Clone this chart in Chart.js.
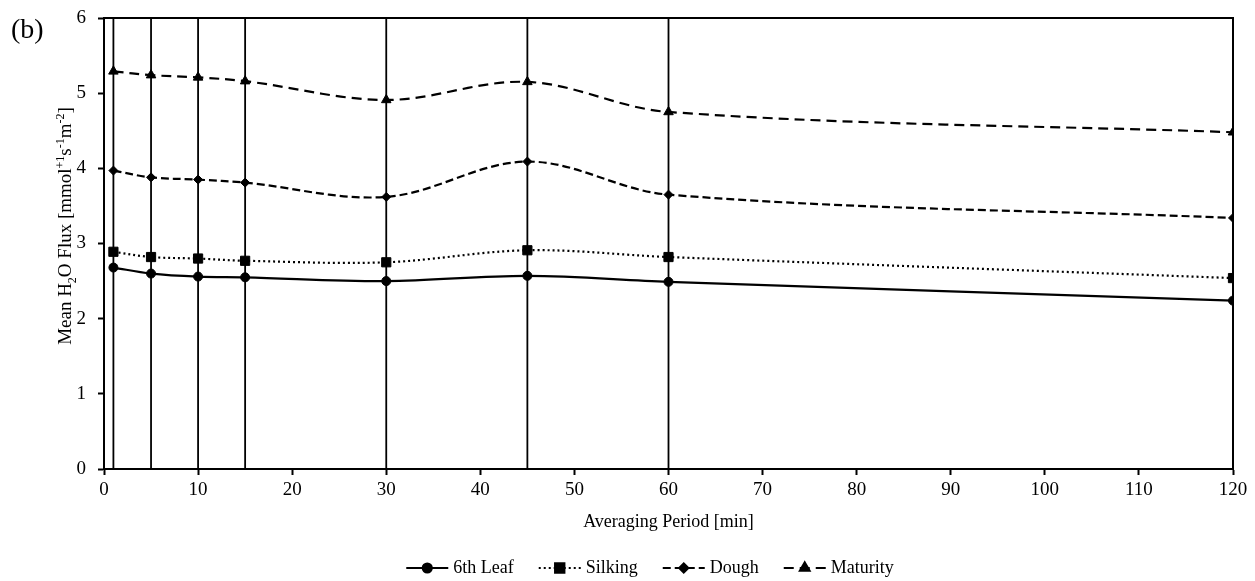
<!DOCTYPE html>
<html>
<head>
  <title>Mean H2O Flux</title>
  <script src="https://cdn.jsdelivr.net/npm/chart.js"></script>
  <style>
    body { margin: 0; background: #fff; }
  </style>
</head>
<body>
<canvas id="fluxChart" width="1255" height="581"></canvas>
<script>
  const periods = [1, 5, 10, 15, 30, 45, 60, 120];
  const leaf6 = [2.68, 2.60, 2.56, 2.55, 2.50, 2.57, 2.49, 2.24];
  const silking = [2.89, 2.82, 2.80, 2.77, 2.75, 2.91, 2.82, 2.54];
  const dough = [3.97, 3.88, 3.85, 3.81, 3.62, 4.09, 3.65, 3.34];
  const maturity = [5.29, 5.24, 5.21, 5.16, 4.91, 5.15, 4.75, 4.48];
  const stageNames = ['6th Leaf', 'Silking', 'Dough', 'Maturity'];
  // error bars are far wider than the axis range, so they run off the plot
  const errHalf = [4, 4, 4, 4, 4, 4, 4, 4];

  const serif = '"Liberation Serif", "Times New Roman", serif';

  function pts(vals) {
    return periods.map((x, i) => ({ x: x, y: vals[i] }));
  }

  function series(label, vals, dash, style, radius) {
    return {
      label: label,
      data: pts(vals),
      borderColor: '#000',
      backgroundColor: '#000',
      borderWidth: 2.2,
      borderDash: dash,
      borderCapStyle: 'butt',
      pointStyle: style,
      pointRadius: radius,
      pointBorderWidth: 1,
      tension: 0.35
    };
  }

  const errorBars = {
    id: 'errorBars',
    beforeDatasetsDraw(chart) {
      const { ctx, chartArea, scales } = chart;
      ctx.save();
      ctx.beginPath();
      ctx.rect(chartArea.left, chartArea.top, chartArea.right - chartArea.left, chartArea.bottom - chartArea.top);
      ctx.clip();
      ctx.strokeStyle = '#000';
      ctx.lineWidth = 1.8;
      periods.forEach((x, i) => {
        const px = scales.x.getPixelForValue(x);
        ctx.beginPath();
        ctx.moveTo(px, scales.y.getPixelForValue(leaf6[i] - errHalf[i]));
        ctx.lineTo(px, scales.y.getPixelForValue(leaf6[i] + errHalf[i]));
        ctx.stroke();
      });
      ctx.restore();
    }
  };

  // frame, panel letter, y title with sub/superscripts, legend
  const extras = {
    id: 'extras',
    afterDraw(chart) {
      const { ctx, chartArea } = chart;
      ctx.save();
      ctx.strokeStyle = '#000';
      ctx.lineWidth = 2;
      ctx.strokeRect(chartArea.left, chartArea.top, chartArea.right - chartArea.left, chartArea.bottom - chartArea.top);

      ctx.fillStyle = '#000';
      ctx.font = '28px ' + serif;
      ctx.textBaseline = 'middle';
      ctx.textAlign = 'left';
      ctx.fillText('(b)', 11, 31);

      // rotated y axis title
      const parts = [
        ['Mean H', 0], ['2', 1], ['O Flux [mmol', 0], ['+1', -1], ['s', 0],
        ['-1', -1], ['m', 0], ['-2', -1], [']', 0]
      ];
      const big = '19px ' + serif, small = '12px ' + serif;
      let total = 0;
      parts.forEach(p => { ctx.font = p[1] ? small : big; total += ctx.measureText(p[0]).width; });
      ctx.translate(65, 226);
      ctx.rotate(-Math.PI / 2);
      ctx.textBaseline = 'alphabetic';
      let cx = -total / 2;
      parts.forEach(p => {
        ctx.font = p[1] ? small : big;
        const dy = p[1] === 1 ? 11 : (p[1] === -1 ? -1 : 6);
        ctx.fillText(p[0], cx, dy);
        cx += ctx.measureText(p[0]).width;
      });
      ctx.setTransform(1, 0, 0, 1, 0, 0);

      // legend
      ctx.font = '18px ' + serif;
      const sample = 42, gapText = 5, gapItem = 25;
      const sets = chart.data.datasets;
      let width = 0;
      sets.forEach((d, i) => {
        width += sample + gapText + ctx.measureText(d.label).width;
        if (i < sets.length - 1) width += gapItem;
      });
      let lx = 650 - width / 2;
      const ly = 568;
      sets.forEach(d => {
        ctx.strokeStyle = '#000';
        ctx.lineWidth = d.borderWidth;
        ctx.setLineDash(d.borderDash);
        ctx.beginPath();
        ctx.moveTo(lx, ly);
        ctx.lineTo(lx + sample, ly);
        ctx.stroke();
        ctx.setLineDash([]);
        Chart.helpers.drawPoint(ctx, {
          pointStyle: d.pointStyle, radius: d.pointRadius, rotation: 0, borderWidth: 1
        }, lx + sample / 2, ly);
        ctx.fill();
        ctx.fillStyle = '#000';
        ctx.textBaseline = 'middle';
        ctx.fillText(d.label, lx + sample + gapText, ly);
        lx += sample + gapText + ctx.measureText(d.label).width + gapItem;
      });
      ctx.restore();
    }
  };

  new Chart(document.getElementById('fluxChart'), {
    type: 'line',
    data: {
      datasets: [
        series(stageNames[0], leaf6, [], 'circle', 4.5),
        series(stageNames[1], silking, [2, 3], 'rect', 6.5),
        series(stageNames[2], dough, [8, 4], 'rectRot', 4.5),
        series(stageNames[3], maturity, [10, 6], 'triangle', 5.5)
      ]
    },
    options: {
      responsive: false,
      animation: false,
      layout: { padding: { top: 18, right: 22, bottom: 40, left: 0 } },
      plugins: { legend: { display: false }, tooltip: { enabled: false } },
      scales: {
        x: {
          type: 'linear', min: 0, max: 120,
          ticks: { stepSize: 10, color: '#000', padding: 4, maxRotation: 0, font: { family: serif, size: 19 } },
          grid: { drawOnChartArea: false, tickLength: 6, tickColor: '#000', tickWidth: 2 },
          border: { color: '#000', width: 2 },
          title: { display: true, text: 'Averaging Period [min]', color: '#000', padding: { top: 0, bottom: 8 }, font: { family: serif, size: 18 } },
          afterFit(scale) { scale.height = 72; }
        },
        y: {
          min: 0, max: 6,
          ticks: { stepSize: 1, color: '#000', padding: 12, font: { family: serif, size: 19 } },
          grid: { drawOnChartArea: false, tickLength: 6, tickColor: '#000', tickWidth: 2 },
          border: { color: '#000', width: 2 },
          afterFit(scale) { scale.width = 104; scale.paddingTop = 0; }
        }
      }
    },
    plugins: [errorBars, extras]
  });
</script>
</body>
</html>
